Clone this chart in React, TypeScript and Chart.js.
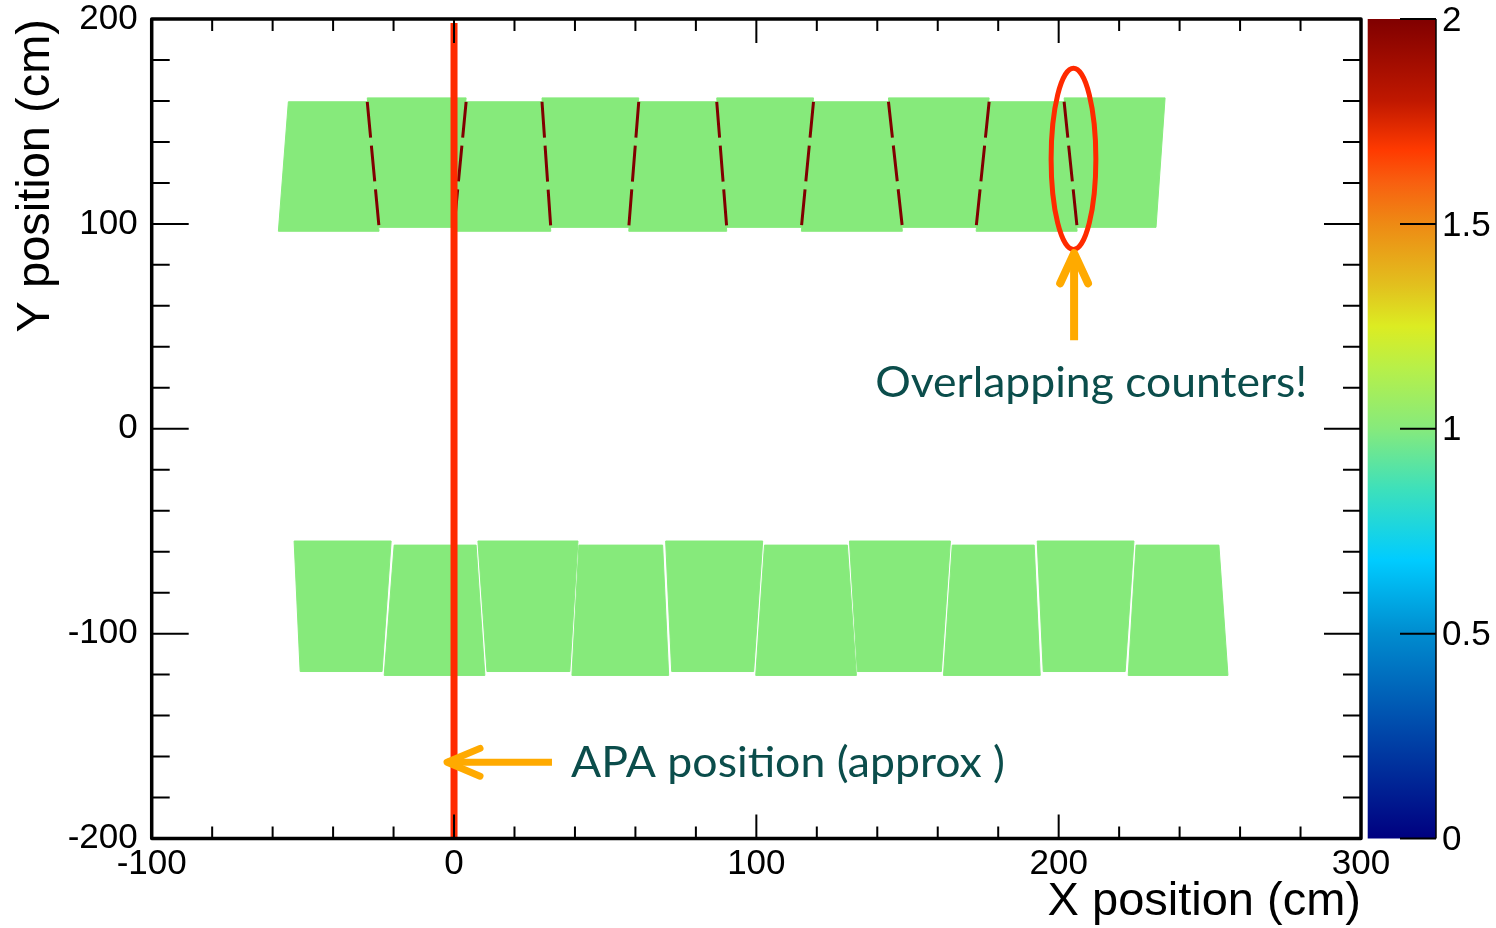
import { useEffect, useRef } from 'react';
import { Chart, registerables } from 'chart.js';

Chart.register(...registerables);

// ---------------- data (cm) ----------------
const xTickValues = [-100, 0, 100, 200, 300];
const yTickValues = [-200, -100, 0, 100, 200];
const xMinorTickValues = [-80, -60, -40, -20, 20, 40, 60, 80, 120, 140, 160, 180, 220, 240, 260, 280];
const yMinorTickValues = [-180, -160, -140, -120, -80, -60, -40, -20, 20, 40, 60, 80, 120, 140, 160, 180];
const colorbarTickValues = [0, 0.5, 1, 1.5, 2];
const colorbarTickLabels = ['0', '0.5', '1', '1.5', '2'];

// upper row of counters: shared boundaries between neighbours
const upperEdgeXAtTop = [-54.8, -28.7, 4.0, 29.1, 61.1, 86.9, 118.9, 143.7, 177.0, 201.8, 235.2];
const upperEdgeXAtBottom = [-58.1, -24.8, 0.0, 32.0, 57.8, 90.2, 114.9, 148.3, 172.7, 206.1, 232.2];
const upperTopY = [159.6, 161.5, 159.6, 161.5, 159.6, 161.5, 159.6, 161.5, 159.6, 161.5];
const upperBottomY = [96.4, 98.3, 96.4, 98.3, 96.4, 98.3, 96.4, 98.3, 96.4, 98.3];
const overlapYRange = [98.3, 159.6]; // strips where two counters overlap (count = 2)

// lower row of counters
const lowerTopLeftX = [-52.9, -19.8, 7.9, 41.3, 70.0, 102.7, 130.8, 164.8, 192.9, 225.6];
const lowerTopRightX = [-20.8, 7.3, 41.0, 69.0, 102.1, 130.1, 164.2, 191.9, 224.9, 253.0];
const lowerBottomLeftX = [-50.9, -23.1, 10.9, 39.0, 72.0, 99.8, 133.4, 161.9, 194.9, 223.0];
const lowerBottomRightX = [-23.8, 10.2, 38.3, 71.0, 99.1, 133.1, 161.2, 193.9, 222.0, 256.0];
const lowerTopY = [-54.8, -56.8, -54.8, -56.8, -54.8, -56.8, -54.8, -56.8, -54.8, -56.8];
const lowerBottomY = [-118.5, -120.4, -118.5, -120.4, -118.5, -120.4, -118.5, -120.4, -118.5, -120.4];

// APA position line
const apaX = [0, 0];
const apaY = [-200, 198];

// annotations (cm)
const ellipseCenter = [204.9, 131.7];
const ellipseRadius = [7.4, 44.2];
const upArrowShaft = [[205.1, 43.2], [205.1, 85.7]];
const upArrowWings = [[200.5, 71.0], [209.7, 71.0]];
const leftArrowShaft = [[32.4, -162.8], [-2.3, -162.8]];
const leftArrowWings = [[8.6, -156.0], [8.6, -169.6]];
const overlapText = 'Overlapping counters!';
const overlapTextPos = [139.3, 15.6];
const apaText = 'APA position (approx )';
const apaTextPos = [38.7, -170.0];

// palette (value 0..2)
const paletteValues = [0, 0.25, 0.5, 0.68, 0.85, 1.0, 1.15, 1.25, 1.35, 1.5, 1.6, 1.68, 1.8, 2.0];
const paletteColors = ['#000080', '#0044a8', '#008ccf', '#00ccff', '#3ce0bc', '#86ea7c', '#b8f048', '#dcec22', '#e2c01e', '#ee8a14', '#f86010', '#ff3a00', '#c01800', '#800000'];

// ---------------- styles ----------------
const GREEN = '#86ea7b';
const DARK_RED = '#800000';
const RED = '#ff2a00';
const ORANGE = '#ffaa00';
const TEAL = '#0b4d4b';
const AXIS_FONT = '"Liberation Sans", Arial, Helvetica, sans-serif';

const lineBase = { showLine: true, pointRadius: 0, pointHoverRadius: 0, tension: 0, fill: false };

function buildDatasets() {
  const ds: any[] = [];
  ds.push({
    ...lineBase,
    data: apaX.map((x, i) => ({ x, y: apaY[i] })),
    borderColor: RED,
    borderWidth: 7,
    order: 0,
  });
  for (let i = 1; i < upperEdgeXAtTop.length - 1; i++) {
    ds.push({
      ...lineBase,
      data: [
        { x: upperEdgeXAtTop[i], y: overlapYRange[1] },
        { x: upperEdgeXAtBottom[i], y: overlapYRange[0] },
      ],
      borderColor: DARK_RED,
      borderWidth: 3,
      borderDash: [36, 8],
      order: 1,
    });
  }
  for (let i = 0; i < upperTopY.length; i++) {
    ds.push({
      ...lineBase,
      data: [
        { x: upperEdgeXAtTop[i], y: upperTopY[i] },
        { x: upperEdgeXAtTop[i + 1], y: upperTopY[i] },
        { x: upperEdgeXAtBottom[i + 1], y: upperBottomY[i] },
        { x: upperEdgeXAtBottom[i], y: upperBottomY[i] },
        { x: upperEdgeXAtTop[i], y: upperTopY[i] },
      ],
      fill: 'shape',
      backgroundColor: GREEN,
      borderColor: GREEN,
      borderWidth: 1,
      order: 2,
    });
  }
  for (let i = 0; i < lowerTopY.length; i++) {
    ds.push({
      ...lineBase,
      data: [
        { x: lowerTopLeftX[i], y: lowerTopY[i] },
        { x: lowerTopRightX[i], y: lowerTopY[i] },
        { x: lowerBottomRightX[i], y: lowerBottomY[i] },
        { x: lowerBottomLeftX[i], y: lowerBottomY[i] },
        { x: lowerTopLeftX[i], y: lowerTopY[i] },
      ],
      fill: 'shape',
      backgroundColor: GREEN,
      borderColor: GREEN,
      borderWidth: 1,
      order: 2,
    });
  }
  return ds;
}

function fitText(ctx: CanvasRenderingContext2D, text: string, px: number, py: number, width: number, font: string, color: string) {
  ctx.save();
  ctx.font = font;
  ctx.fillStyle = color;
  ctx.textAlign = 'left';
  ctx.textBaseline = 'alphabetic';
  const w = ctx.measureText(text).width;
  ctx.translate(px, py);
  ctx.scale(width / w, 1);
  ctx.fillText(text, 0, 0);
  ctx.restore();
}

const decorPlugin = {
  id: 'decor',
  afterDatasetsDraw(chart: any) {
    const { ctx, chartArea: a, scales } = chart;
    const x = scales.x;
    const y = scales.y;
    const cb = scales.cb;
    const X = (v: number) => x.getPixelForValue(v);
    const Y = (v: number) => y.getPixelForValue(v);

    ctx.save();
    // ellipse
    const cx = X(ellipseCenter[0]);
    const cy = Y(ellipseCenter[1]);
    const rx = Math.abs(X(ellipseCenter[0] + ellipseRadius[0]) - cx);
    const ry = Math.abs(Y(ellipseCenter[1] + ellipseRadius[1]) - cy);
    ctx.strokeStyle = RED;
    ctx.lineWidth = 5;
    ctx.beginPath();
    ctx.ellipse(cx, cy, rx, ry, 0, 0, Math.PI * 2);
    ctx.stroke();

    // arrows
    const drawArrow = (shaft: number[][], wings: number[][], w: number) => {
      ctx.strokeStyle = ORANGE;
      ctx.lineWidth = w;
      ctx.lineCap = 'butt';
      ctx.beginPath();
      ctx.moveTo(X(shaft[0][0]), Y(shaft[0][1]));
      ctx.lineTo(X(shaft[1][0]), Y(shaft[1][1]));
      ctx.stroke();
      ctx.lineCap = 'round';
      ctx.lineJoin = 'round';
      ctx.beginPath();
      ctx.moveTo(X(wings[0][0]), Y(wings[0][1]));
      ctx.lineTo(X(shaft[1][0]), Y(shaft[1][1]));
      ctx.lineTo(X(wings[1][0]), Y(wings[1][1]));
      ctx.stroke();
    };
    drawArrow(upArrowShaft, upArrowWings, 8);
    drawArrow(leftArrowShaft, leftArrowWings, 7);

    // annotation texts
    fitText(ctx, overlapText, X(overlapTextPos[0]), Y(overlapTextPos[1]), 432, '42px Lato, "Open Sans", sans-serif', TEAL);
    fitText(ctx, apaText, X(apaTextPos[0]), Y(apaTextPos[1]), 434, '42px Lato, "Open Sans", sans-serif', TEAL);

    // frame
    ctx.lineCap = 'butt';
    ctx.strokeStyle = '#000';
    ctx.lineWidth = 3.5;
    ctx.strokeRect(a.left, a.top, a.right - a.left, a.bottom - a.top);

    // ticks (ROOT style, inward, on all four sides)
    ctx.lineWidth = 2;
    ctx.beginPath();
    const yTick = (v: number, L: number) => {
      const p = Y(v);
      ctx.moveTo(a.left, p); ctx.lineTo(a.left + L, p);
      ctx.moveTo(a.right, p); ctx.lineTo(a.right - L, p);
    };
    const xTick = (v: number, L: number) => {
      const p = X(v);
      ctx.moveTo(p, a.bottom); ctx.lineTo(p, a.bottom - L);
      ctx.moveTo(p, a.top); ctx.lineTo(p, a.top + L);
    };
    yTickValues.forEach((v) => yTick(v, 37));
    yMinorTickValues.forEach((v) => yTick(v, 18));
    xTickValues.forEach((v) => xTick(v, 24));
    xMinorTickValues.forEach((v) => xTick(v, 12));
    ctx.stroke();

    // colour bar
    const cbL = a.right + 6.7;
    const cbR = a.right + 75;
    const C = (v: number) => cb.getPixelForValue(v);
    const g = ctx.createLinearGradient(0, C(0), 0, C(2));
    paletteValues.forEach((v, i) => g.addColorStop(v / 2, paletteColors[i]));
    ctx.fillStyle = g;
    ctx.fillRect(cbL, C(2), cbR - cbL, C(0) - C(2));
    ctx.lineWidth = 1.5;
    ctx.beginPath();
    ctx.moveTo(cbR, C(2));
    ctx.lineTo(cbR, C(0));
    ctx.stroke();
    ctx.lineWidth = 2;
    ctx.beginPath();
    colorbarTickValues.forEach((v) => {
      ctx.moveTo(cbR, C(v));
      ctx.lineTo(cbR - 36, C(v));
    });
    ctx.stroke();
    ctx.fillStyle = '#000';
    ctx.font = `35px ${AXIS_FONT}`;
    ctx.textAlign = 'left';
    ctx.textBaseline = 'middle';
    colorbarTickValues.forEach((v, i) => {
      ctx.fillText(colorbarTickLabels[i], cbR + 6, C(v) + 2);
    });
    ctx.restore();
  },
};

export default function App() {
  const ref = useRef<HTMLCanvasElement>(null);
  useEffect(() => {
    document.body.style.margin = '0';
    const chart = new Chart(ref.current as HTMLCanvasElement, {
      type: 'scatter',
      data: { datasets: buildDatasets() },
      options: {
        responsive: false,
        animation: false,
        devicePixelRatio: 1,
        events: [],
        layout: { padding: { top: 19, right: 135, left: 0, bottom: 0 } },
        plugins: { legend: { display: false }, tooltip: { enabled: false } },
        scales: {
          x: {
            type: 'linear',
            min: -100,
            max: 300,
            afterBuildTicks: (s: any) => {
              s.ticks = xTickValues.map((value) => ({ value }));
            },
            ticks: {
              autoSkip: false,
              maxRotation: 0,
              padding: 5,
              color: '#000',
              font: { family: AXIS_FONT, size: 35, lineHeight: 1.2 },
              callback: (v: any) => String(v),
            },
            grid: { display: false, drawTicks: false },
            border: { display: false },
            title: {
              display: true,
              text: 'X position (cm)',
              align: 'end',
              color: '#000',
              font: { family: AXIS_FONT, size: 47, lineHeight: 1 },
              padding: { top: 0, bottom: 2 },
            },
            afterFit: (s: any) => {
              s.height = 89.5;
              s.paddingLeft = 0;
              s.paddingRight = 0;
            },
          },
          y: {
            type: 'linear',
            min: -200,
            max: 200,
            afterBuildTicks: (s: any) => {
              s.ticks = yTickValues.map((value) => ({ value }));
            },
            ticks: {
              autoSkip: false,
              padding: 14,
              color: '#000',
              font: { family: AXIS_FONT, size: 35, lineHeight: 1 },
              callback: (v: any) => String(v),
            },
            grid: { display: false, drawTicks: false },
            border: { display: false },
            title: {
              display: true,
              text: 'Y position (cm)',
              align: 'end',
              color: '#000',
              font: { family: AXIS_FONT, size: 47, lineHeight: 1 },
              padding: { top: 13, bottom: 0 },
            },
            afterFit: (s: any) => {
              s.width = 151.7;
              s.paddingTop = 0;
              s.paddingBottom = 0;
            },
          },
          cb: {
            type: 'linear',
            axis: 'y',
            min: 0,
            max: 2,
            display: false,
            afterFit: (s: any) => {
              s.paddingTop = 0;
              s.paddingBottom = 0;
            },
          },
        },
      } as any,
      plugins: [decorPlugin],
    });
    return () => chart.destroy();
  }, []);
  return (
    <div style={{ width: 1496, height: 928, overflow: 'hidden', background: '#fff' }}>
      <canvas ref={ref} width={1496} height={928} style={{ display: 'block' }} />
    </div>
  );
}
